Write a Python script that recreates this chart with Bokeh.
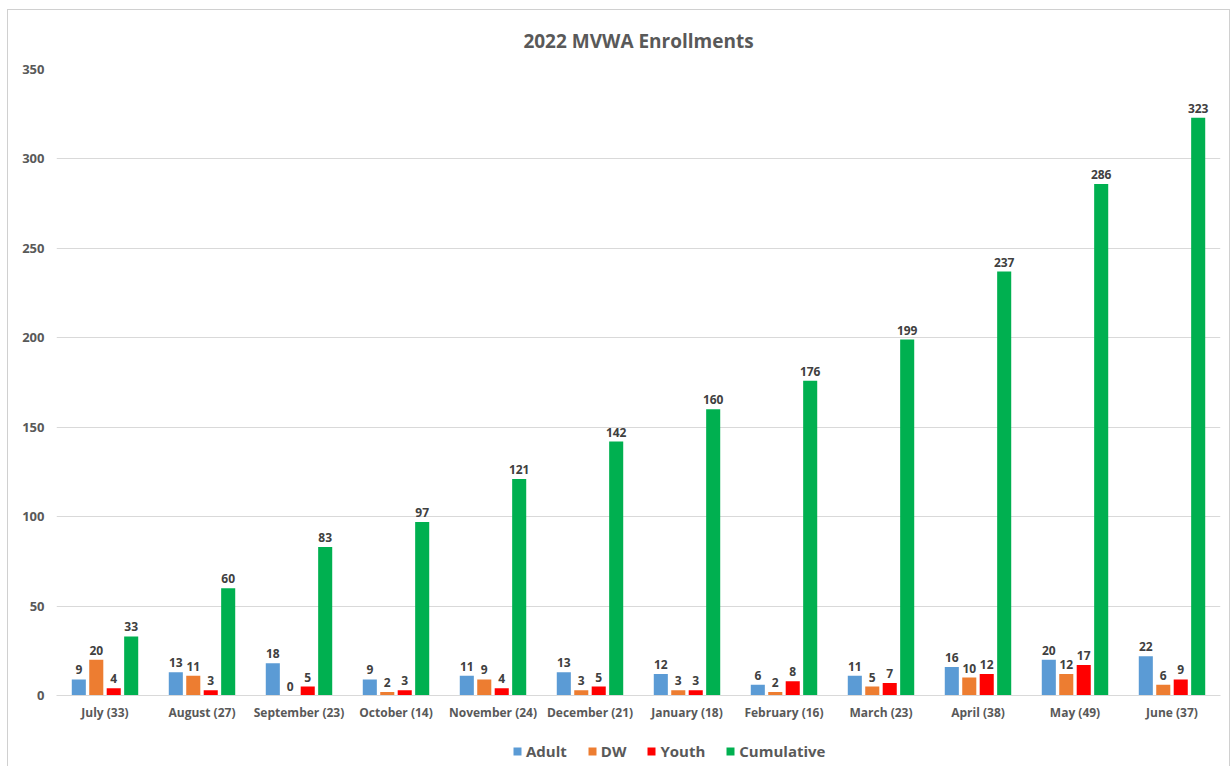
from bokeh.plotting import figure
from bokeh.layouts import column
from bokeh.models import ColumnDataSource, FactorRange, Legend, LegendItem, Title, Range1d
from bokeh.transform import dodge
from bokeh.core.properties import value
from bokeh.embed import file_html
from bokeh.resources import INLINE

months = ["July (33)", "August (27)", "September (23)", "October (14)", "November (24)",
          "December (21)", "January (18)", "February (16)", "March (23)", "April (38)",
          "May (49)", "June (37)"]
adult = [9, 13, 18, 9, 11, 13, 12, 6, 11, 16, 20, 22]
dw = [20, 11, 0, 2, 9, 3, 3, 2, 5, 10, 12, 6]
youth = [4, 3, 5, 3, 4, 5, 3, 8, 7, 12, 17, 9]
cumulative = [33, 60, 83, 97, 121, 142, 160, 176, 199, 237, 286, 323]

series = [("Adult", adult, "#5B9BD5"), ("DW", dw, "#ED7D31"),
          ("Youth", youth, "#FF0000"), ("Cumulative", cumulative, "#00B050")]
offsets = [-0.27, -0.09, 0.09, 0.27]
FONT = "Open Sans"

p = figure(x_range=FactorRange(*months), y_range=(0, 350),
           frame_width=1164, frame_height=626,
           output_backend="svg", toolbar_location=None,
           min_border_left=48, min_border_right=9, min_border_top=59, min_border_bottom=24)

p.title = Title(text="2022 MVWA Enrollments", align="center", text_font=FONT,
                text_font_size="19px", text_font_style="bold", text_color="#595959",
                standoff=31)

# legend-only strip below the chart (its bars lie outside its y range)
lf = figure(x_range=p.x_range, y_range=Range1d(1000, 1001), width=1221, height=44,
            output_backend="svg", toolbar_location=None,
            x_axis_location=None, y_axis_location=None, min_border=0)
lf.grid.visible = False
lf.outline_line_color = None

items = []
for (name, vals, color), off in zip(series, offsets):
    src = ColumnDataSource(dict(m=months, v=vals, t=[str(v) for v in vals]))
    p.vbar(x=dodge("m", off, range=p.x_range), top="v", width=0.145, source=src,
           fill_color=color, line_color=None)
    p.text(x=dodge("m", off, range=p.x_range), y="v", text="t", source=src,
           text_align="center", text_baseline="bottom", y_offset=-5,
           text_font=value(FONT), text_font_size="12px", text_font_style="bold",
           text_color="#404040")
    r = lf.vbar(x=dodge("m", off, range=p.x_range), top="v", width=0.145, source=src,
                fill_color=color, line_color=None)
    items.append(LegendItem(label=name, renderers=[r]))

legend = Legend(items=items, orientation="horizontal", location=(456, 6),
                label_text_font=FONT, label_text_font_size="15px",
                label_text_font_style="bold", label_text_color="#595959",
                glyph_width=10, glyph_height=10, spacing=20, border_line_color=None,
                background_fill_alpha=0, margin=0, padding=2, label_standoff=4,
                label_height=18)
lf.add_layout(legend, "center")

p.xgrid.grid_line_color = None
p.ygrid.grid_line_color = "#d9d9d9"
p.yaxis.ticker = [0, 50, 100, 150, 200, 250, 300, 350]
p.yaxis.axis_line_color = None
p.yaxis.major_tick_line_color = None
p.yaxis.minor_tick_line_color = None
p.yaxis.major_label_text_font = FONT
p.yaxis.major_label_text_font_size = "13px"
p.yaxis.major_label_text_font_style = "bold"
p.yaxis.major_label_text_color = "#595959"
p.yaxis.major_label_standoff = 6

p.xaxis.axis_line_color = "#d9d9d9"
p.xaxis.major_tick_line_color = None
p.xaxis.minor_tick_line_color = None
p.xaxis.major_label_text_font = FONT
p.xaxis.major_label_text_font_size = "12px"
p.xaxis.major_label_text_font_style = "bold"
p.xaxis.major_label_text_color = "#595959"
p.xaxis.major_label_standoff = 2
p.x_range.range_padding = 0
p.outline_line_color = None

layout = column(p, lf, spacing=0, margin=(9, 0, 0, 7),
                styles={"border": "1px solid #d0d0d0"})

open("out.html", "w").write(file_html(layout, INLINE))
